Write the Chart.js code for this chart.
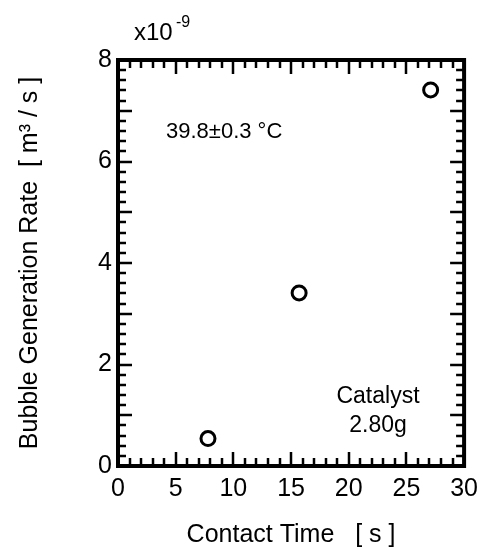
<!DOCTYPE html>
<html>
<head>
<meta charset="utf-8">
<script src="https://cdn.jsdelivr.net/npm/chart.js@4.4.0/dist/chart.umd.min.js"></script>
<style>
  html, body { margin: 0; padding: 0; background: #fff; }
  #wrap { width: 486px; height: 550px; }
</style>
</head>
<body>
<div id="wrap"><canvas id="rateChart" width="486" height="550"></canvas></div>
<script>
// data (y in units of 1e-9 m3/s)
const contactTime = [7.8, 15.7, 27.1];
const bubbleRate = [0.54, 3.41, 7.41];
const xTicks = [0, 5, 10, 15, 20, 25, 30];
const yTicks = [0, 2, 4, 6, 8];

const FONT = '"Liberation Sans", Arial, Helvetica, sans-serif';

// inward ticks on all four sides + frame text
const frameTicks = {
    id: 'frameTicks',
    afterDatasetsDraw(chart) {
        const ctx = chart.ctx;
        const a = chart.chartArea;
        const xs = chart.scales.x, ys = chart.scales.y;
        ctx.save();
        ctx.strokeStyle = '#000';
        ctx.lineWidth = 2.5;
        ctx.beginPath();
        for (let v = 0; v <= 30; v += 1) {
            const px = Math.round(xs.getPixelForValue(v));
            const len = v % 5 === 0 ? 14 : 8;
            ctx.moveTo(px, a.bottom); ctx.lineTo(px, a.bottom - len);
            ctx.moveTo(px, a.top); ctx.lineTo(px, a.top + len);
        }
        for (let i = 0; i <= 40; i++) {
            const v = i * 0.2;
            const py = Math.round(ys.getPixelForValue(v));
            const len = i % 5 === 0 ? 14 : 8;
            ctx.moveTo(a.left, py); ctx.lineTo(a.left + len, py);
            ctx.moveTo(a.right, py); ctx.lineTo(a.right - len, py);
        }
        ctx.stroke();
        ctx.lineWidth = 4;
        ctx.strokeRect(a.left, a.top, a.right - a.left, a.bottom - a.top);

        ctx.fillStyle = '#000';
        ctx.textBaseline = 'alphabetic';
        ctx.textAlign = 'left';
        ctx.font = '24px ' + FONT;
        ctx.fillText('x10', 134, 40);
        ctx.font = '16px ' + FONT;
        ctx.fillText('-9', 176, 27);

        ctx.font = '22px ' + FONT;
        ctx.fillText('39.8\u00B10.3 \u00B0C', 166, 138);
        ctx.textAlign = 'center';
        ctx.font = '23px ' + FONT;
        ctx.fillText('Catalyst', 378, 403);
        ctx.fillText('2.80g', 378, 432);
        ctx.restore();
    }
};

const ctx = document.getElementById('rateChart').getContext('2d');
new Chart(ctx, {
    type: 'scatter',
    data: {
        datasets: [{
            data: contactTime.map((t, i) => ({ x: t, y: bubbleRate[i] })),
            pointStyle: 'circle',
            pointRadius: 7,
            borderColor: '#000',
            backgroundColor: '#fff',
            borderWidth: 3
        }]
    },
    options: {
        responsive: false,
        animation: false,
        layout: { padding: { left: 0, right: 14, top: 60, bottom: 0 } },
        plugins: { legend: { display: false }, tooltip: { enabled: false } },
        scales: {
            x: {
                type: 'linear', min: 0, max: 30,
                afterFit(scale) { scale.height = 84; },
                afterBuildTicks(scale) { scale.ticks = xTicks.map(v => ({ value: v })); },
                grid: { display: false, drawTicks: false },
                border: { display: false },
                ticks: { color: '#000', padding: 8, maxRotation: 0, font: { family: FONT, size: 25 } },
                title: {
                    display: true, text: 'Contact Time   [ s ]', color: '#000',
                    padding: { top: 4, bottom: 0 },
                    font: { family: FONT, size: 25 }
                }
            },
            y: {
                type: 'linear', min: 0, max: 8,
                afterFit(scale) { scale.width = 118; },
                afterBuildTicks(scale) { scale.ticks = yTicks.map(v => ({ value: v })); },
                grid: { display: false, drawTicks: false },
                border: { display: false },
                ticks: { color: '#000', padding: 6, font: { family: FONT, size: 25 } },
                title: {
                    display: true, text: 'Bubble Generation Rate  [ m\u00B3 / s ]', color: '#000',
                    padding: { top: 15, bottom: 0 },
                    font: { family: FONT, size: 25 }
                }
            }
        }
    },
    plugins: [frameTicks]
});
</script>
</body>
</html>
